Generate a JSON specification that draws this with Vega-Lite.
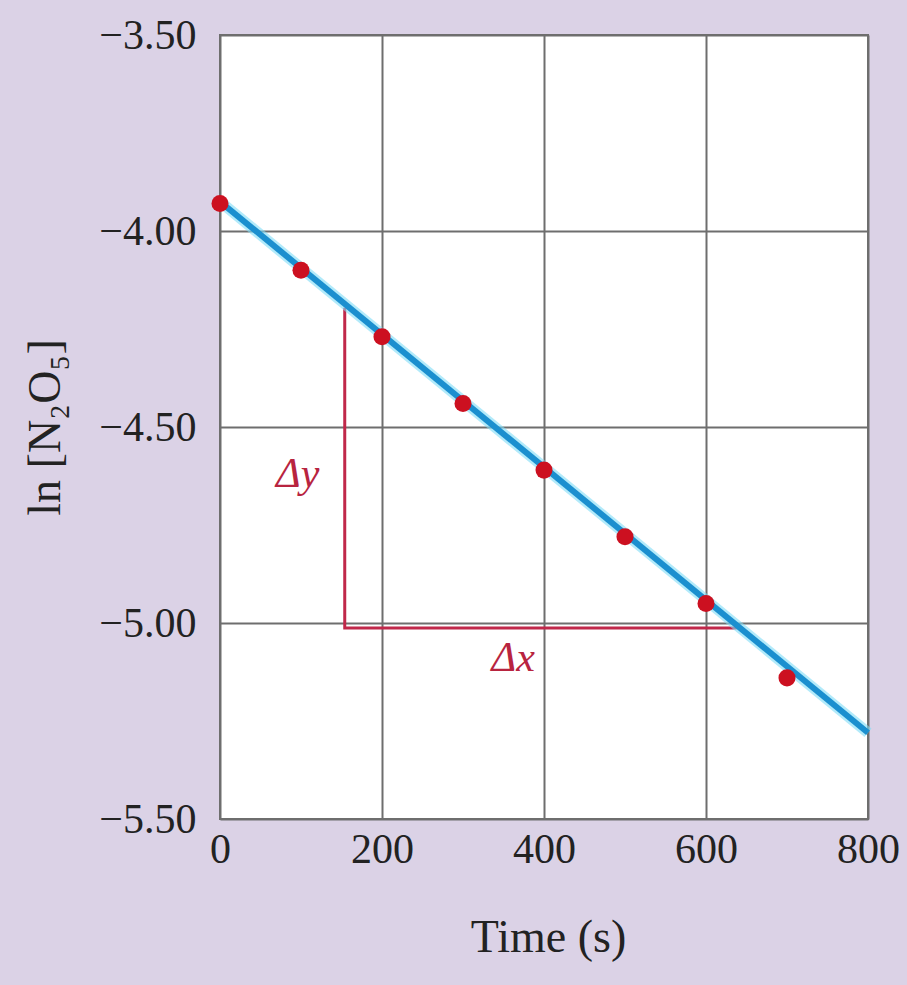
{
  "$schema": "https://vega.github.io/schema/vega-lite/v6.json",
  "autosize": "none",
  "width": 648,
  "height": 784,
  "padding": {"left": 220, "top": 35, "right": 39, "bottom": 166},
  "background": "#dbd2e6",
  "config": {
    "view": {"fill": "white", "stroke": "#6e6e6e", "strokeWidth": 2},
    "font": "Liberation Serif"
  },
  "datasets": {
    "fit": [{"t": 0, "v": -3.925}, {"t": 800, "v": -5.28}],
    "tri": [{"k": 1, "t": 154, "v": -4.196}, {"k": 2, "t": 154, "v": -5.013}, {"k": 3, "t": 638, "v": -5.013}],
    "pts": [
      {"t": 0, "v": -3.93},
      {"t": 100, "v": -4.10},
      {"t": 200, "v": -4.27},
      {"t": 300, "v": -4.44},
      {"t": 400, "v": -4.61},
      {"t": 500, "v": -4.78},
      {"t": 600, "v": -4.95},
      {"t": 700, "v": -5.14}
    ],
    "labels": [{"t": 96, "v": -4.62, "txt": "Δy"}, {"t": 362, "v": -5.09, "txt": "Δx"}]
  },
  "encoding": {
    "x": {
      "field": "t", "type": "quantitative",
      "scale": {"domain": [0, 800], "nice": false},
      "axis": {
        "values": [0, 200, 400, 600, 800], "title": "Time (s)",
        "grid": true, "gridColor": "#6e6e6e", "gridWidth": 2, "gridOpacity": 1,
        "domain": false, "ticks": false,
        "labelFont": "Liberation Serif", "labelFontSize": 42, "labelColor": "#222", "labelPadding": 10,
        "labelFlush": false,
        "titleFont": "Liberation Serif", "titleFontSize": 46, "titleFontWeight": "normal", "titleColor": "#222",
        "titleX": 328, "titleY": 118, "titleBaseline": "middle", "titleAlign": "center"
      }
    },
    "y": {
      "field": "v", "type": "quantitative",
      "scale": {"domain": [-5.5, -3.5], "nice": false, "zero": false},
      "axis": {
        "values": [-3.5, -4, -4.5, -5, -5.5], "format": ".2f", "title": "ln [N₂O₅]",
        "grid": true, "gridColor": "#6e6e6e", "gridWidth": 2, "gridOpacity": 1,
        "domain": false, "ticks": false,
        "labelFont": "Liberation Serif", "labelFontSize": 42, "labelColor": "#222", "labelPadding": 24,
        "labelFlush": false,
        "titleFont": "Liberation Serif", "titleFontSize": 46, "titleFontWeight": "normal", "titleColor": "#222",
        "titleX": -175, "titleY": 392, "titleBaseline": "middle", "titleAlign": "center", "titleAngle": -90
      }
    }
  },
  "layer": [
    {
      "data": {"name": "tri"},
      "mark": {"type": "line", "color": "#c0284a", "strokeWidth": 3},
      "encoding": {"order": {"field": "k", "type": "quantitative"}}
    },
    {
      "data": {"name": "fit"},
      "mark": {"type": "line", "color": "#7fdcf7", "strokeWidth": 11, "opacity": 0.6}
    },
    {
      "data": {"name": "fit"},
      "mark": {"type": "line", "color": "#1b8fcf", "strokeWidth": 6}
    },
    {
      "data": {"name": "pts"},
      "mark": {"type": "point", "filled": true, "color": "#cc1020", "size": 290, "opacity": 1}
    },
    {
      "data": {"name": "labels"},
      "mark": {"type": "text", "color": "#b8243f", "fontSize": 42, "font": "Liberation Serif", "fontStyle": "italic", "align": "center", "baseline": "middle"},
      "encoding": {"text": {"field": "txt"}}
    }
  ]
}
